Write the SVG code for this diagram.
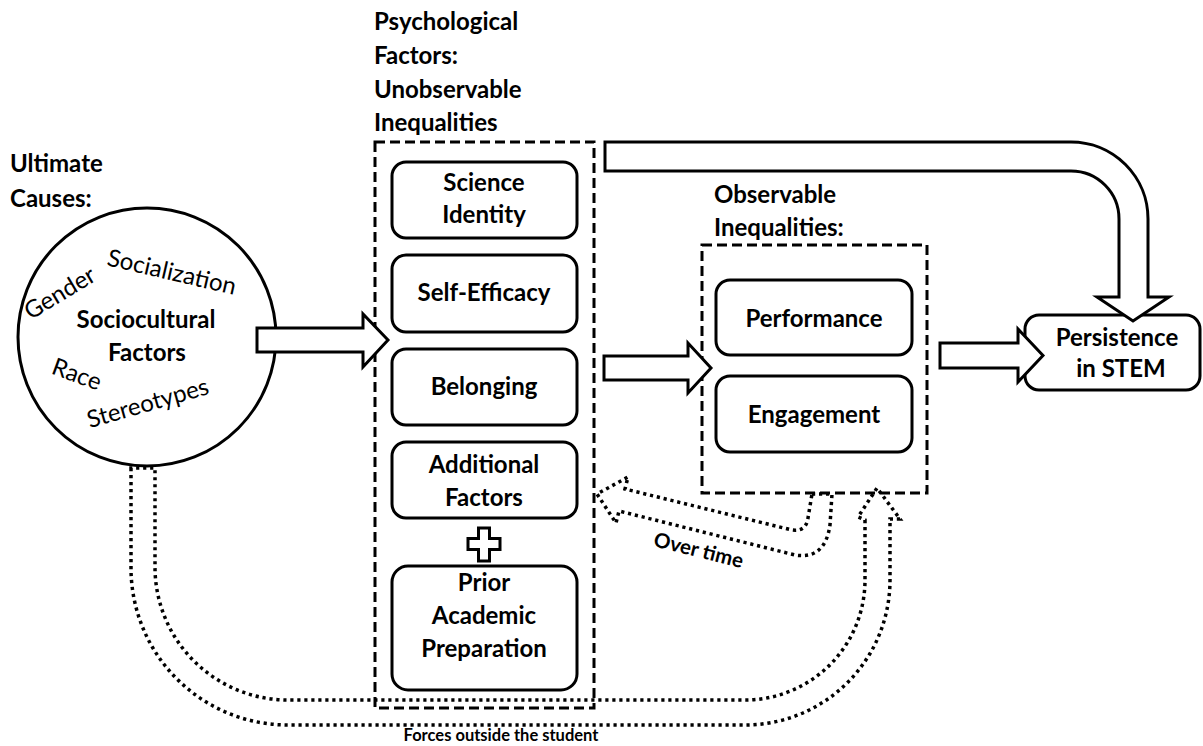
<svg xmlns="http://www.w3.org/2000/svg" width="1203" height="746" viewBox="0 0 1203 746">
<style>
text{font-family:Lato,"Open Sans",sans-serif;fill:#000}
.t{font-weight:700;font-size:24px}
.b{font-weight:700;font-size:24px;text-anchor:middle}
.r{font-weight:400;font-size:24px;text-anchor:middle}
.s{font-weight:700;font-size:20.5px;text-anchor:middle}
.f{font-weight:700;font-size:16.5px;text-anchor:middle}
.box{fill:#fff;stroke:#000;stroke-width:3}
.dash{fill:none;stroke:#000;stroke-width:3;stroke-dasharray:10 5}
.arr{fill:#fff;stroke:#000;stroke-width:3;stroke-linejoin:miter}
.dot{fill:none;stroke:#000;stroke-width:3.5;stroke-dasharray:3.2 3.8}
</style>
<rect width="1203" height="746" fill="#fff"/>

<g id="titles">
<text class="t" x="10" y="172">Ultimate</text>
<text class="t" x="10" y="207">Causes:</text>
<text class="t" x="374" y="30">Psychological</text>
<text class="t" x="374" y="64">Factors:</text>
<text class="t" x="374" y="98">Unobservable</text>
<text class="t" x="374" y="131">Inequalities</text>
<text class="t" x="714" y="203">Observable</text>
<text class="t" x="714" y="236">Inequalities:</text>
</g>

<g id="sociocultural">
<circle cx="147" cy="337" r="129" fill="#fff" stroke="#000" stroke-width="3"/>
<text class="r" transform="translate(170 280) rotate(13)">Socialization</text>
<text class="r" transform="translate(64 300) rotate(-31)">Gender</text>
<text class="b" x="146" y="328">Sociocultural</text>
<text class="b" x="147" y="361">Factors</text>
<text class="r" transform="translate(74 382) rotate(20)">Race</text>
<text class="r" transform="translate(150 411) rotate(-16)">Stereotypes</text>
</g>

<g id="psychological">
<rect class="dash" x="375" y="142" width="219" height="566"/>
<g id="science-identity"><rect class="box" x="392" y="162" width="185" height="76" rx="14"/>
<text class="b" x="484" y="191">Science</text><text class="b" x="484" y="223">Identity</text></g>
<g id="self-efficacy"><rect class="box" x="392" y="255" width="185" height="77" rx="14"/>
<text class="b" x="484" y="301">Self-Efficacy</text></g>
<g id="belonging"><rect class="box" x="392" y="349" width="185" height="76" rx="14"/>
<text class="b" x="484" y="395">Belonging</text></g>
<g id="additional-factors"><rect class="box" x="392" y="442" width="185" height="76" rx="14"/>
<text class="b" x="484" y="473">Additional</text><text class="b" x="484" y="506">Factors</text></g>
<g id="plus"><path class="arr" d="M478.5 528H489.5V538.5H500V549.5H489.5V561H478.5V549.5H468V538.5H478.5Z"/></g>
<g id="prior-preparation"><rect class="box" x="392" y="566" width="185" height="124" rx="16"/>
<text class="b" x="484" y="591">Prior</text><text class="b" x="484" y="624">Academic</text><text class="b" x="484" y="657">Preparation</text></g>
</g>

<g id="observable">
<rect class="dash" x="702" y="245" width="225" height="248"/>
<g id="performance"><rect class="box" x="716" y="280" width="196" height="75" rx="14"/>
<text class="b" x="814" y="327">Performance</text></g>
<g id="engagement"><rect class="box" x="716" y="376" width="196" height="76" rx="14"/>
<text class="b" x="814" y="423">Engagement</text></g>
</g>

<g id="persistence">
<rect class="box" x="1025" y="315" width="175" height="75" rx="14"/>
<text class="b" x="1117" y="346">Persistence</text>
<text class="b" x="1121" y="377">in STEM</text>
</g>

<g id="connectors">
<path class="arr" d="M257 328H363V314L388 340L363 367V352H257Z"/>
<path class="arr" d="M604 356H688V343L711 368L688 393V380H604Z"/>
<path class="arr" d="M940 343H1018V329L1043 355.5L1018 382V368H940Z"/>
<path class="arr" d="M605 142H1071A77 77 0 0 1 1148 219V297H1169L1133 321L1097 297H1119V219A48 48 0 0 0 1071 171H605Z"/>
<path class="dot" d="M131 468V568A157 157 0 0 0 288 725H745A145 145 0 0 0 890 580V519H900L877 488L858 517L865 520V580A120 120 0 0 1 745 700H288A133 133 0 0 1 155 568V468Z"/>
<path class="dot" d="M812 494H832L830 525Q825 560 795 555L619 511L616 523L597 494L628 477L625 489L792 530Q806 532 808 518Z"/>
<text class="s" transform="translate(697 557) rotate(14)">Over time</text>
<text class="f" x="501" y="741">Forces outside the student</text>
</g>
</svg>
